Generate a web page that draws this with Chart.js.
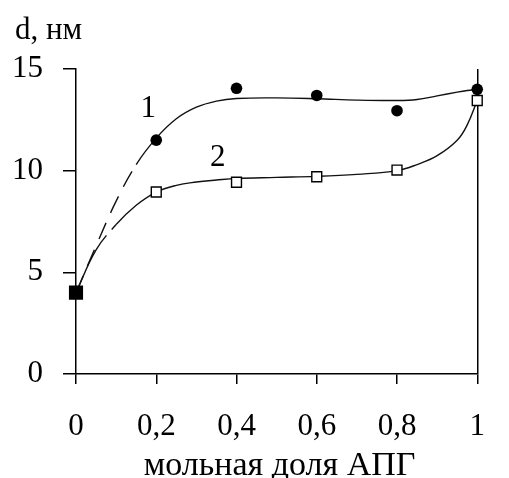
<!DOCTYPE html>
<html>
<head>
<meta charset="utf-8">
<script src="https://cdn.jsdelivr.net/npm/chart.js@4"></script>
<style>
  html, body { margin: 0; padding: 0; background: #fff; }
  canvas { display: block; }
</style>
</head>
<body>
<canvas id="chart" width="509" height="478"></canvas>
<script>
// Measured particle size d (nm) versus mole fraction of APG
const xTicks = [0, 0.2, 0.4, 0.6, 0.8, 1];
const xTickLabels = ['0', '0,2', '0,4', '0,6', '0,8', '1'];
const yTicks = [0, 5, 10, 15];

const series1 = [4.0, 11.5, 14.05, 13.7, 12.95, 14.0];
const series2 = [4.0, 8.95, 9.43, 9.7, 10.03, 13.45];

// Smoothed trend curves, sampled along x
const trendX = [0, 0.05, 0.1, 0.15, 0.2, 0.25, 0.3, 0.35, 0.4, 0.5, 0.6, 0.7, 0.8, 0.85, 0.9, 0.95, 0.975, 1];
const trend1 = [4.0, 6.3, 8.5, 10.3, 11.6, 12.55, 13.12, 13.42, 13.55, 13.58, 13.54, 13.47, 13.45, 13.5, 13.68, 13.86, 13.94, 14.0];
const trend2 = [4.0, 6.1, 7.35, 8.3, 8.95, 9.28, 9.44, 9.54, 9.62, 9.67, 9.72, 9.82, 10.0, 10.3, 10.74, 11.5, 12.25, 13.45];

const xTitle = 'мольная доля АПГ';
const yTitle = 'd, нм';
const curveNames = ['1', '2'];

const FONT = '"Liberation Serif", "Times New Roman", serif';
const INK = '#000';

const toPoints = (xs, ys) => xs.map((x, i) => ({ x: x, y: ys[i] }));

// Axis titles and curve numbers
const annotations = {
  id: 'annotations',
  afterDraw(chart) {
    const { ctx, chartArea, scales: { x, y } } = chart;
    ctx.save();
    ctx.fillStyle = INK;
    ctx.font = '31px ' + FONT;
    ctx.textAlign = 'left';
    ctx.textBaseline = 'alphabetic';
    ctx.fillText(yTitle, 15, 39);

    ctx.font = '34px ' + FONT;
    ctx.textAlign = 'center';
    ctx.fillText(xTitle, (chartArea.left + chartArea.right) / 2 + 3, chart.height - 3);

    ctx.font = '31px ' + FONT;
    ctx.textBaseline = 'middle';
    ctx.fillText(curveNames[0], x.getPixelForValue(0.18), y.getPixelForValue(13.05));
    ctx.fillText(curveNames[1], x.getPixelForValue(0.353), y.getPixelForValue(10.62));
    ctx.restore();
  }
};

new Chart(document.getElementById('chart'), {
  type: 'line',
  data: {
    datasets: [
      {
        label: '1',
        data: toPoints(xTicks, series1),
        showLine: false,
        pointStyle: ['rect', 'circle', 'circle', 'circle', 'circle', 'circle'],
        pointRadius: [9, 5.8, 5.8, 5.8, 5.8, 5.8],
        pointBackgroundColor: INK,
        pointBorderColor: INK,
        pointBorderWidth: 0,
        clip: false
      },
      {
        label: '2',
        data: toPoints(xTicks, series2),
        showLine: false,
        pointStyle: 'rect',
        pointRadius: [9, 7, 7, 7, 7, 7],
        pointBackgroundColor: [INK, '#fff', '#fff', '#fff', '#fff', '#fff'],
        pointBorderColor: INK,
        pointBorderWidth: 1.4,
        clip: false
      },
      {
        label: 'trend 1',
        data: toPoints(trendX, trend1),
        borderColor: '#111',
        borderWidth: 1.4,
        pointRadius: 0,
        tension: 0.4,
        segment: { borderDash: c => (c.p1.parsed.x <= 0.15 ? [18, 11] : undefined) },
        clip: false
      },
      {
        label: 'trend 2',
        data: toPoints(trendX, trend2),
        borderColor: '#111',
        borderWidth: 1.4,
        pointRadius: 0,
        tension: 0.4,
        segment: { borderDash: c => (c.p1.parsed.x > 0.05 && c.p1.parsed.x <= 0.1 ? [18, 8] : undefined) },
        clip: false
      }
    ]
  },
  options: {
    responsive: false,
    animation: false,
    events: [],
    layout: { padding: { top: 69, right: 9, left: 0, bottom: 0 } },
    plugins: { legend: { display: false }, tooltip: { enabled: false } },
    scales: {
      x: {
        type: 'linear',
        min: 0,
        max: 1,
        afterBuildTicks: s => { s.ticks = xTicks.map(v => ({ value: v })); },
        afterFit: s => { s.height = 104; },
        ticks: {
          color: INK,
          font: { family: FONT, size: 31 },
          padding: 24,
          maxRotation: 0,
          autoSkip: false,
          callback: v => xTickLabels[xTicks.indexOf(v)]
        },
        grid: {
          drawOnChartArea: true,
          color: c => (c.tick && c.tick.value === 1 ? INK : 'rgba(0,0,0,0)'),
          tickColor: INK,
          tickLength: 10,
          lineWidth: 1.5
        },
        border: { display: true, color: INK, width: 1.5 }
      },
      y: {
        type: 'linear',
        min: 0,
        max: 15,
        afterBuildTicks: s => { s.ticks = yTicks.map(v => ({ value: v })); },
        afterFit: s => { s.width = 76; },
        ticks: {
          color: INK,
          font: { family: FONT, size: 31 },
          padding: 20,
          autoSkip: false
        },
        grid: {
          drawOnChartArea: false,
          tickColor: INK,
          tickLength: 13,
          lineWidth: 1.5
        },
        border: { display: true, color: INK, width: 1.5 }
      }
    }
  },
  plugins: [annotations]
});
</script>
</body>
</html>
